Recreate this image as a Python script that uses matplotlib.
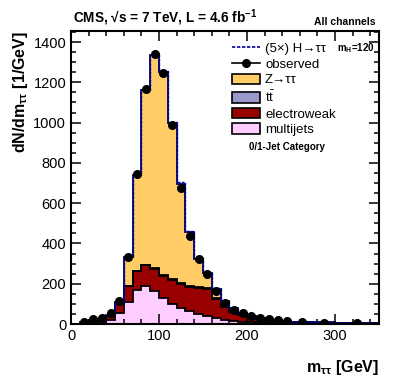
import numpy as np
import matplotlib
matplotlib.use("Agg")
import matplotlib.pyplot as plt
from matplotlib.patches import Patch
from matplotlib.lines import Line2D

plt.rcParams['font.family'] = ['Liberation Sans', 'DejaVu Sans']
plt.rcParams['mathtext.fontset'] = 'custom'
plt.rcParams['mathtext.rm'] = 'Liberation Sans'
plt.rcParams['mathtext.it'] = 'Liberation Sans:italic'
plt.rcParams['mathtext.bf'] = 'Liberation Sans:bold'

# bin edges in GeV
edges = np.array([0, 10, 20, 30, 40, 50, 60, 70, 80, 90, 100, 110, 120, 130, 140,
                  150, 160, 170, 180, 190, 200, 210, 220, 230, 240, 250, 275, 300, 350])

observed = np.array([np.nan, 10, 25, 31, 55, 116, 331, 743, 1165, 1343, 1247, 988, 673, 438,
                     321, 247, 165, 103, 71, 53, 38, 30, 24, 20, 17, 12, 7, 3])
total = np.array([2, 8, 20, 27, 45, 108, 331, 740, 1161, 1335, 1252, 996, 695, 455,
                  324, 251, 176, 115, 78, 56, 42, 32, 25, 20, 16, 12, 8, 4])
multijets = np.array([1, 3, 6, 10, 20, 53, 111, 169, 188, 165, 130, 100, 78, 63,
                      48, 38, 28, 20, 15, 12, 9, 7, 5, 4, 3, 2, 1.5, 1])
electroweak = np.array([1, 3, 6, 10, 20, 50, 77, 94, 105, 108, 110, 118, 120, 120,
                        130, 138, 95, 64, 46, 32, 24, 18, 14, 11, 9, 6.5, 4.5, 2])
ttbar = np.array([0, 0, 0, 0, 0, 0, 1, 2, 2, 3, 3, 3, 4, 4,
                  5, 5, 4, 3, 2, 2, 2, 1, 1, 1, 1, 0.5, 0.5, 0])
higgs5x = np.array([0, 0, 0, 0, 0, 0, 0, 1, 2, 4, 6, 9, 11, 7,
                    4, 2, 1, 0, 0, 0, 0, 0, 0, 0, 0, 0, 0, 0])
ztautau = total - multijets - electroweak - ttbar

c_ztt = '#FFCC66'
c_tt = '#9999CC'
c_ewk = '#990000'
c_qcd = '#FFCCFF'

fig = plt.figure(figsize=(3.99, 3.83), dpi=100)
ax = fig.add_axes([71/399, 59/383, 308/399, 293/383])

b0 = np.zeros_like(total, dtype=float)
layers = [(multijets, c_qcd, 'black'), (electroweak, c_ewk, 'black'),
          (ttbar, c_tt, 'black'), (ztautau, c_ztt, '#000066')]
bottom = b0.copy()
for vals, col, ec in layers:
    top = bottom + vals
    ax.stairs(top, edges, baseline=bottom, fill=True, color=col, lw=0)
    bottom = top
bottom = b0.copy()
for vals, col, ec in layers:
    top = bottom + vals
    ax.stairs(top, edges, color=ec, lw=1.3, baseline=None)
    bottom = top
ax.stairs(total + higgs5x, edges, color='#000099', lw=1.0, ls=(0, (2, 1)), baseline=None)

centers = 0.5 * (edges[1:] + edges[:-1])
ax.plot(centers, observed, 'o', color='black', ms=5.5, zorder=5)

ax.set_xlim(0, 350)
ax.set_ylim(0, 1455)
ax.set_xticks([0, 100, 200, 300])
ax.set_xticks(np.arange(0, 351, 20), minor=True)
ax.set_yticks(np.arange(0, 1401, 200))
ax.set_yticks(np.arange(0, 1451, 50), minor=True)
ax.tick_params(which='both', direction='in', top=True, right=True, labelsize=10.5, width=1.1)
ax.tick_params(which='major', length=7)
ax.tick_params(which='minor', length=3.5)
for s in ax.spines.values():
    s.set_linewidth(1.5)

ax.set_ylabel(r'dN/dm$_{\mathregular{\tau\tau}}$ [1/GeV]', fontsize=11.5, fontweight='bold',
              loc='top', labelpad=2)
ax.set_xlabel(r'm$_{\mathregular{\tau\tau}}$ [GeV]', fontsize=11.5, fontweight='bold',
              loc='right', labelpad=11)

fig.text(73/399, 1 - 18/383, 'CMS, √s = 7 TeV, L = 4.6 fb$^{\\mathregular{-1}}$',
         fontsize=9.8, fontweight='bold', va='center', ha='left')
fig.text(376/399, 1 - 22/383, 'All channels', fontsize=7.5, fontweight='bold',
         va='center', ha='right')

handles = [Line2D([], [], color='#000099', ls=(0, (2, 1)), lw=1.2),
           Line2D([], [], color='black', marker='o', ms=5.5, lw=1.2),
           Patch(facecolor=c_ztt, edgecolor='black', lw=1.2),
           Patch(facecolor=c_tt, edgecolor='black', lw=1.2),
           Patch(facecolor=c_ewk, edgecolor='black', lw=1.2),
           Patch(facecolor=c_qcd, edgecolor='black', lw=1.2)]
labels = ['(5×) H→ττ', 'observed', 'Z→ττ', r't$\bar{\mathregular{t}}$', 'electroweak', 'multijets']
ax.legend(handles, labels, loc='upper left', bbox_to_anchor=(0.523, 0.962), frameon=False,
          fontsize=9.5, handlelength=2.1, handleheight=0.85, labelspacing=0.22,
          handletextpad=0.4, borderaxespad=0, borderpad=0)
ax.text(0.985, 0.94, r'm$_{\mathregular{H}}$=120', transform=ax.transAxes, fontsize=7,
        fontweight='bold', ha='right', va='center')
ax.text(0.70, 0.605, '0/1-Jet Category', transform=ax.transAxes, fontsize=7,
        fontweight='bold', ha='center', va='center')

fig.savefig('out.png', dpi=100)
